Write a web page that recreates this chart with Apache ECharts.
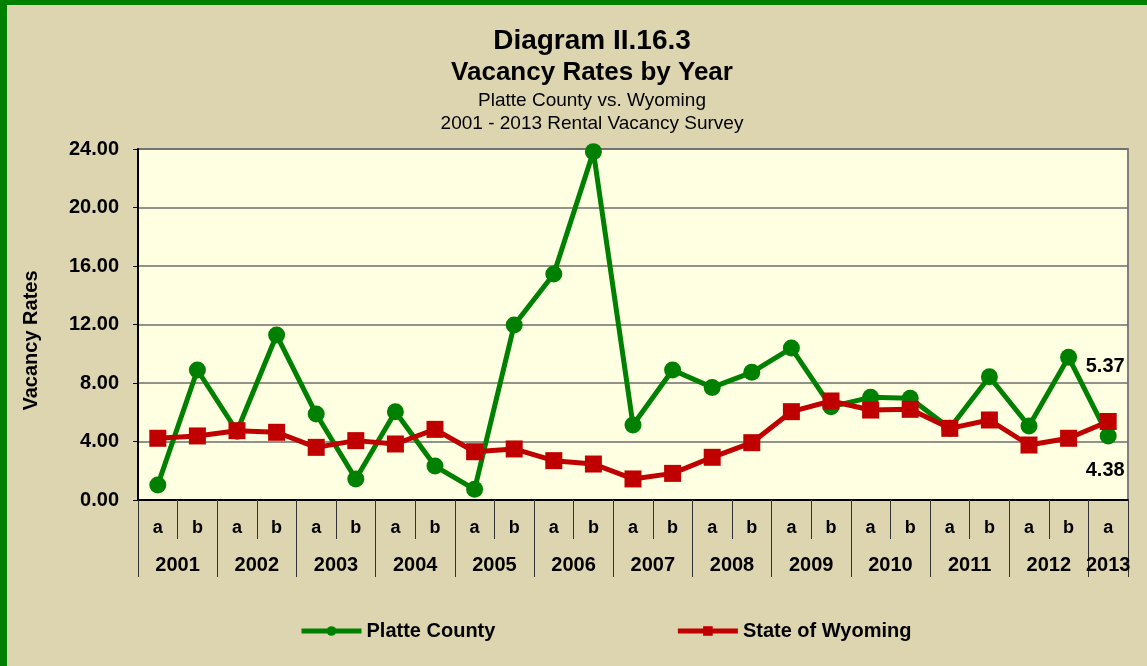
<!DOCTYPE html>
<html>
<head>
<meta charset="utf-8">
<script src="https://cdn.jsdelivr.net/npm/echarts@6/dist/echarts.min.js"></script>
<style>
  html, body { margin: 0; padding: 0; }
  body { width: 1147px; height: 666px; overflow: hidden; background: #ddd5b0; }
  #frame { position: absolute; left: 0; top: 0; width: 1147px; height: 666px; box-sizing: border-box;
           border-left: 7px solid #008000; border-top: 5px solid #008000; }
  #chart { position: absolute; left: 0; top: 0; width: 1147px; height: 666px; }
</style>
</head>
<body>
<div id="frame"></div>
<div id="chart"></div>
<script>
// survey periods (a / b per year), year labels
const periods = ['a','b','a','b','a','b','a','b','a','b','a','b','a','b','a','b','a','b','a','b','a','b','a','b','a'];
const years = ['2001','2002','2003','2004','2005','2006','2007','2008','2009','2010','2011','2012','2013'];

// vacancy rates
const platteCounty = [1.03, 8.89, 4.70, 11.28, 5.88, 1.44, 6.04, 2.32, 0.73, 11.97, 15.45, 23.82,
  5.13, 8.89, 7.70, 8.73, 10.39, 6.38, 7.02, 6.95, 4.90, 8.43, 5.06, 9.76, 4.38];
const stateOfWyoming = [4.22, 4.38, 4.74, 4.63, 3.60, 4.06, 3.83, 4.83, 3.30, 3.49, 2.69, 2.46,
  1.44, 1.82, 2.92, 3.92, 6.04, 6.77, 6.15, 6.20, 4.90, 5.47, 3.76, 4.22, 5.37];

// year boundaries and year label positions in period units
const yearBounds = [];
for (let i = 0; i <= 24; i += 2) yearBounds.push(i);
yearBounds.push(25);
const yearLabelPos = [];
for (let i = 1; i <= 23; i += 2) yearLabelPos.push(i);
yearLabelPos.push(24.5);

const font = '"Liberation Sans", Arial, sans-serif';
const chart = echarts.init(document.getElementById('chart'), null, { renderer: 'canvas' });

function lastLabel(series, dy) {
  return series.map((v, i) => {
    if (i !== series.length - 1) return v;
    return {
      value: v,
      label: {
        show: true, position: 'inside', offset: [-3, dy],
        formatter: v.toFixed(2),
        color: '#000', fontWeight: 'bold', fontSize: 20, fontFamily: font
      }
    };
  });
}

const option = {
  animation: false,
  textStyle: { fontFamily: font },
  title: [
    { text: 'Diagram II.16.3', left: 587, textAlign: 'center', top: 22,
      textStyle: { fontSize: 28, fontWeight: 'bold', color: '#000', fontFamily: font } },
    { text: 'Vacancy Rates by Year', left: 587, textAlign: 'center', top: 55,
      textStyle: { fontSize: 26, fontWeight: 'bold', color: '#000', fontFamily: font } },
    { text: 'Platte County vs. Wyoming', left: 587, textAlign: 'center', top: 86,
      textStyle: { fontSize: 19, fontWeight: 'normal', color: '#000', fontFamily: font } },
    { text: '2001 - 2013 Rental Vacancy Survey', left: 587, textAlign: 'center', top: 109,
      textStyle: { fontSize: 19, fontWeight: 'normal', color: '#000', fontFamily: font } }
  ],
  legend: {
    left: 294, top: 616,
    itemGap: 180, itemWidth: 60, itemHeight: 12,
    lineStyle: { width: 5 },
    textStyle: { fontSize: 20, fontWeight: 'bold', color: '#000', fontFamily: font },
    data: ['Platte County', 'State of Wyoming']
  },
  grid: {
    left: 138, top: 149, right: 19, bottom: 166,
    show: true, backgroundColor: '#ffffe1', borderColor: '#808080', borderWidth: 2
  },
  xAxis: [
    {
      type: 'category', data: periods, boundaryGap: true, position: 'bottom',
      axisLine: { lineStyle: { color: '#000', width: 2 } },
      axisTick: { show: true, interval: 0, length: 39, lineStyle: { color: '#333', width: 1 } },
      axisLabel: { interval: 0, margin: 19, color: '#000', fontSize: 18, fontWeight: 'bold', fontFamily: font }
    },
    {
      type: 'value', min: 0, max: 25, position: 'bottom',
      axisLine: { show: false },
      splitLine: { show: false },
      axisTick: { show: true, length: 77, customValues: yearBounds, lineStyle: { color: '#333', width: 1 } },
      axisLabel: {
        customValues: yearLabelPos, margin: 55,
        formatter: v => years[Math.floor(v / 2)],
        color: '#000', fontSize: 20, fontWeight: 'bold', fontFamily: font
      }
    }
  ],
  yAxis: {
    type: 'value', min: 0, max: 24, interval: 4,
    name: 'Vacancy Rates', nameLocation: 'middle', nameGap: 97, nameRotate: 90,
    nameTextStyle: { fontSize: 20, fontWeight: 'bold', color: '#000', fontFamily: font, padding: [0, 32, 0, 0] },
    axisLine: { show: true, lineStyle: { color: '#000', width: 2 } },
    axisTick: { show: true, length: 5, lineStyle: { color: '#000' } },
    axisLabel: { formatter: v => v.toFixed(2), margin: 19, color: '#000', fontSize: 20, fontWeight: 'bold', fontFamily: font },
    splitLine: { show: true, lineStyle: { color: '#6e6e6e', width: 1.5 } }
  },
  series: [
    {
      name: 'Platte County', type: 'line', xAxisIndex: 0,
      data: lastLabel(platteCounty, 35),
      symbol: 'circle', symbolSize: 17,
      lineStyle: { color: '#008000', width: 5 },
      itemStyle: { color: '#008000' },
      z: 2
    },
    {
      name: 'State of Wyoming', type: 'line', xAxisIndex: 0,
      data: lastLabel(stateOfWyoming, -55),
      symbol: 'rect', symbolSize: 17,
      lineStyle: { color: '#c00000', width: 5 },
      itemStyle: { color: '#c00000' },
      z: 3
    }
  ]
};

chart.setOption(option);
</script>
</body>
</html>
